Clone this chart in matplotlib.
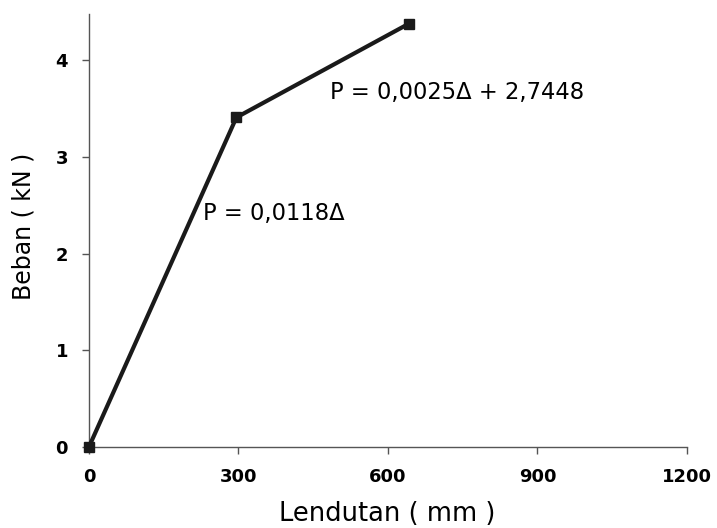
import matplotlib
matplotlib.use("Agg")
import matplotlib.pyplot as plt

lendutan = [0, 296, 642]
beban = [0, 3.41, 4.38]
x_ticks = [0, 300, 600, 900, 1200]
y_ticks = [0, 1, 2, 3, 4]
eq1 = "P = 0,0118Δ"
eq2 = "P = 0,0025Δ + 2,7448"

plt.rcParams['font.family'] = ['DejaVu Sans']

fig = plt.figure(figsize=(7.17, 5.28), dpi=100)
ax = fig.add_axes([0.124, 0.1534, 0.834, 0.82])
ax.plot(lendutan, beban, color='#1a1a1a', lw=3, marker='s', ms=7,
        mfc='#1a1a1a', mec='#1a1a1a', clip_on=False, zorder=5)
ax.set_xlim(0, 1200)
ax.set_ylim(0, 4.48)
ax.set_xticks(x_ticks)
ax.set_yticks(y_ticks)
for s in ['top', 'right']:
    ax.spines[s].set_visible(False)
for s in ['left', 'bottom']:
    ax.spines[s].set_color('#555555')
    ax.spines[s].set_linewidth(1.0)
ax.tick_params(axis='both', direction='out', length=5, width=1, color='#555555',
               labelsize=13, pad=10)
for lab in ax.get_xticklabels() + ax.get_yticklabels():
    lab.set_fontweight('bold')
ax.set_xlabel("Lendutan ( mm )", fontsize=18.5, va='center')
ax.set_ylabel("Beban ( kN )", fontsize=17, va='center')
ax.xaxis.set_label_coords(0.498, -0.155)
ax.yaxis.set_label_coords(-0.109, 0.51)
ax.text(483, 3.67, eq2, fontsize=16.3, va='center', ha='left')
ax.text(229, 2.42, eq1, fontsize=16.3, va='center', ha='left')
fig.savefig("out.png", dpi=100)
